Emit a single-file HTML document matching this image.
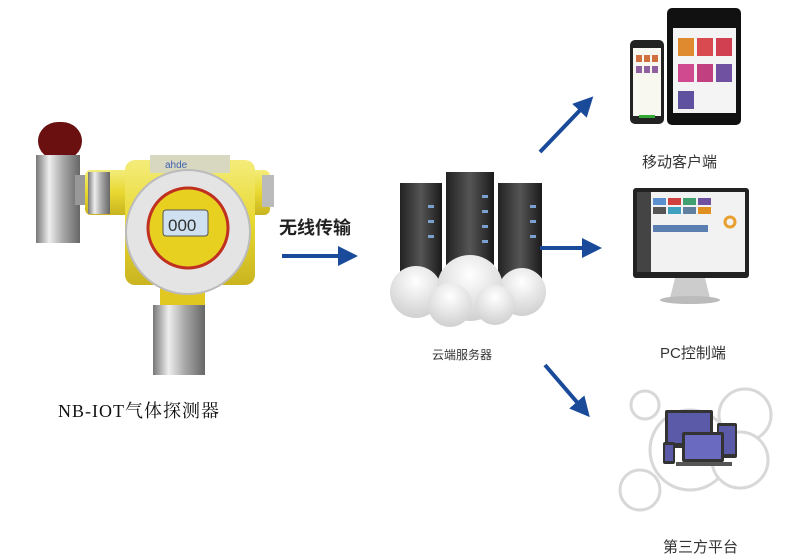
<!DOCTYPE html>
<html><head><meta charset="utf-8"><style>
html,body{margin:0;padding:0;background:#fff;}
svg{display:block;}
text{font-family:"Liberation Sans","Noto Sans CJK SC",sans-serif;}
</style></head><body>
<svg width="795" height="560" viewBox="0 0 795 560" xmlns="http://www.w3.org/2000/svg">
<defs>
<linearGradient id="silver" x1="0" x2="1"><stop offset="0" stop-color="#777"/><stop offset=".3" stop-color="#eee"/><stop offset=".6" stop-color="#aaa"/><stop offset="1" stop-color="#666"/></linearGradient>
<linearGradient id="yel" x1="0" y1="0" x2="0" y2="1"><stop offset="0" stop-color="#f4ec7a"/><stop offset=".5" stop-color="#e8d830"/><stop offset="1" stop-color="#c9b420"/></linearGradient>
<linearGradient id="srv" x1="0" x2="1"><stop offset="0" stop-color="#222"/><stop offset=".5" stop-color="#555"/><stop offset="1" stop-color="#1a1a1a"/></linearGradient>
<radialGradient id="cld" cx=".5" cy=".3" r=".7"><stop offset="0" stop-color="#fff"/><stop offset="1" stop-color="#d0d0d0"/></radialGradient>
<marker id="ah" markerWidth="5" markerHeight="5" refX="2" refY="2.5" orient="auto"><path d="M0,0 L5,2.5 L0,5 Z" fill="#1a4a9a"/></marker>
</defs>

<!-- detector -->
<rect x="38" y="122" width="44" height="38" rx="20" fill="#6a1010"/>
<rect x="36" y="155" width="44" height="88" fill="url(#silver)"/>
<rect x="75" y="175" width="15" height="30" fill="#999"/>
<rect x="85" y="170" width="185" height="45" rx="6" fill="url(#yel)"/>
<rect x="88" y="172" width="22" height="42" fill="url(#silver)"/>
<rect x="262" y="175" width="12" height="32" fill="#bbb"/>
<rect x="125" y="160" width="130" height="125" rx="10" fill="url(#yel)"/>
<rect x="150" y="155" width="80" height="18" fill="#d8d8c0"/>
<text x="165" y="168" font-size="10" fill="#4060b0">ahde</text>
<rect x="160" y="285" width="45" height="22" fill="#e0c820"/>
<rect x="153" y="305" width="52" height="70" fill="url(#silver)"/>
<circle cx="188" cy="232" r="62" fill="#e4e4e4" stroke="#bbb" stroke-width="2"/>
<circle cx="188" cy="228" r="40" fill="#e8d020" stroke="#c03020" stroke-width="3"/>
<rect x="163" y="210" width="45" height="26" rx="3" fill="#cfe0f0" stroke="#555"/>
<text x="168" y="231" font-size="17" fill="#333" font-family="Liberation Mono">000</text>
<text x="58" y="417" font-size="18" fill="#111" letter-spacing="1" style="font-family:'Liberation Serif','Noto Serif CJK SC',serif">NB-IOT气体探测器</text>

<!-- wireless -->
<text x="279" y="234" font-size="18" font-weight="bold" fill="#222">无线传输</text>
<line x1="282" y1="256" x2="346" y2="256" stroke="#1a4a9a" stroke-width="4" marker-end="url(#ah)"/>

<!-- servers -->
<rect x="400" y="183" width="42" height="105" fill="url(#srv)"/>
<rect x="446" y="172" width="48" height="110" fill="url(#srv)"/>
<rect x="498" y="183" width="44" height="105" fill="url(#srv)"/>
<g fill="#7aa0d0"><rect x="428" y="205" width="6" height="3"/><rect x="428" y="220" width="6" height="3"/><rect x="428" y="235" width="6" height="3"/><rect x="482" y="195" width="6" height="3"/><rect x="482" y="210" width="6" height="3"/><rect x="482" y="225" width="6" height="3"/><rect x="482" y="240" width="6" height="3"/><rect x="530" y="205" width="6" height="3"/><rect x="530" y="220" width="6" height="3"/><rect x="530" y="235" width="6" height="3"/></g>
<g fill="url(#cld)"><circle cx="416" cy="292" r="26"/><circle cx="522" cy="292" r="24"/><circle cx="470" cy="288" r="33"/><circle cx="450" cy="305" r="22"/><circle cx="495" cy="305" r="20"/></g>
<text x="432" y="359" font-size="12" fill="#333">云端服务器</text>

<!-- arrows right -->
<line x1="540" y1="152" x2="585" y2="105" stroke="#1a4a9a" stroke-width="4" marker-end="url(#ah)"/>
<line x1="540" y1="248" x2="590" y2="248" stroke="#1a4a9a" stroke-width="4" marker-end="url(#ah)"/>
<line x1="545" y1="365" x2="582" y2="408" stroke="#1a4a9a" stroke-width="4" marker-end="url(#ah)"/>

<!-- mobile -->
<rect x="667" y="8" width="74" height="117" rx="5" fill="#111"/>
<rect x="673" y="28" width="63" height="85" fill="#f4f4f4"/>
<g><rect x="678" y="38" width="16" height="18" fill="#e08a30"/><rect x="697" y="38" width="16" height="18" fill="#d84a50"/><rect x="716" y="38" width="16" height="18" fill="#d04050"/><rect x="678" y="64" width="16" height="18" fill="#d04a90"/><rect x="697" y="64" width="16" height="18" fill="#c04080"/><rect x="716" y="64" width="16" height="18" fill="#7050a0"/><rect x="678" y="91" width="16" height="18" fill="#6050a0"/></g>
<rect x="630" y="40" width="34" height="84" rx="5" fill="#222"/>
<rect x="633" y="48" width="28" height="68" fill="#f8f8f0"/>
<g fill="#d07040"><rect x="636" y="55" width="6" height="7"/><rect x="644" y="55" width="6" height="7"/><rect x="652" y="55" width="6" height="7"/></g>
<g fill="#9060a0"><rect x="636" y="66" width="6" height="7"/><rect x="644" y="66" width="6" height="7"/><rect x="652" y="66" width="6" height="7"/></g>
<rect x="639" y="115" width="16" height="3" fill="#3a3"/>
<text x="642" y="167" font-size="15" fill="#333">移动客户端</text>

<!-- PC -->
<rect x="633" y="188" width="116" height="90" rx="3" fill="#222"/>
<rect x="637" y="192" width="108" height="80" fill="#f2f2f2"/>
<rect x="637" y="192" width="14" height="80" fill="#444"/>
<g><rect x="653" y="198" width="13" height="7" fill="#5a8fd0"/><rect x="668" y="198" width="13" height="7" fill="#d04040"/><rect x="683" y="198" width="13" height="7" fill="#40a070"/><rect x="698" y="198" width="13" height="7" fill="#7050a0"/><rect x="653" y="207" width="13" height="7" fill="#555"/><rect x="668" y="207" width="13" height="7" fill="#40a0c0"/><rect x="683" y="207" width="13" height="7" fill="#6080a0"/><rect x="698" y="207" width="13" height="7" fill="#e09020"/></g>
<rect x="653" y="225" width="55" height="7" fill="#5a7fb0"/>
<circle cx="730" cy="222" r="5" fill="none" stroke="#e8a030" stroke-width="3"/>
<path d="M675,278 L705,278 L710,298 L670,298 Z" fill="#ccc"/>
<ellipse cx="690" cy="300" rx="30" ry="4" fill="#bbb"/>
<text x="660" y="358" font-size="15" fill="#333">PC控制端</text>

<!-- third party -->
<g fill="#fff" stroke="#d8d8d8" stroke-width="3"><circle cx="645" cy="405" r="14"/><circle cx="745" cy="415" r="26"/><circle cx="690" cy="450" r="40"/><circle cx="740" cy="460" r="28"/><circle cx="640" cy="490" r="20"/></g>
<rect x="665" y="410" width="48" height="38" rx="2" fill="#333"/><rect x="668" y="413" width="42" height="30" fill="#5a5aa8"/>
<rect x="717" y="423" width="20" height="35" rx="2" fill="#333"/><rect x="719" y="426" width="16" height="28" fill="#5a5aa8"/>
<rect x="682" y="432" width="42" height="30" rx="2" fill="#333"/><rect x="685" y="435" width="36" height="24" fill="#6a6ac0"/>
<rect x="676" y="462" width="56" height="4" fill="#555"/>
<rect x="663" y="442" width="12" height="22" rx="2" fill="#333"/><rect x="665" y="445" width="8" height="16" fill="#5a5aa8"/>
<text x="663" y="552" font-size="15" fill="#333">第三方平台</text>
</svg>
</body></html>
